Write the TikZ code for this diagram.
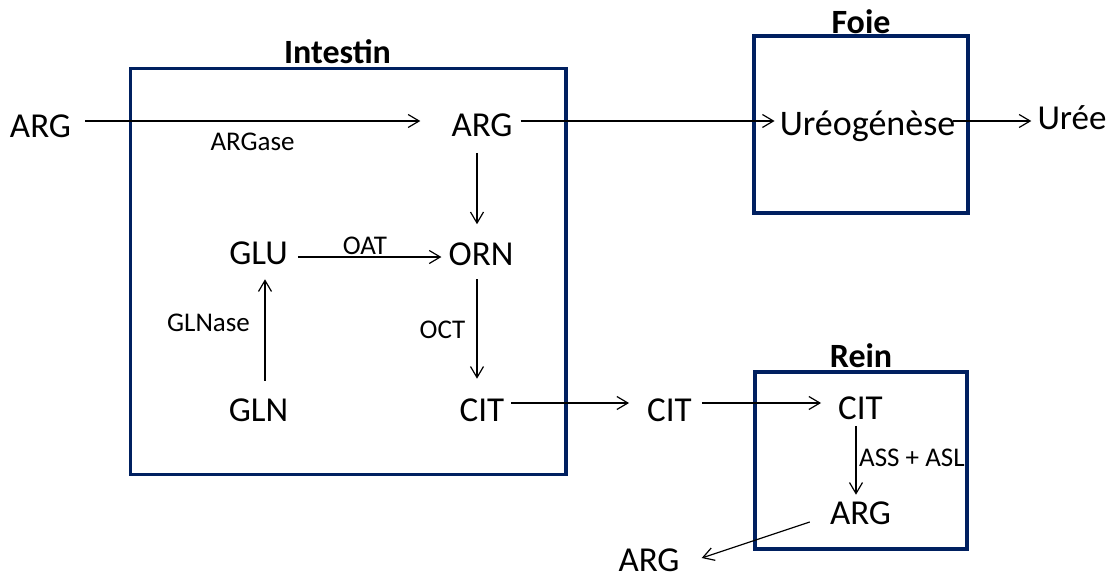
\documentclass[tikz,border=0pt]{standalone}
\usepackage{fontspec}
\setmainfont{Carlito}
\usetikzlibrary{arrows.meta}
\definecolor{boxblue}{HTML}{002060}
\tikzset{
  big/.style={font=\fontsize{35}{40}\selectfont, text height=22.2pt, text depth=0pt, inner sep=0pt, anchor=center},
  huge/.style={font=\fontsize{36}{40}\selectfont, text height=22.8pt, text depth=0pt, inner sep=0pt, anchor=center},
  small/.style={font=\fontsize{27}{30}\selectfont, text height=17.1pt, text depth=0pt, inner sep=0pt, anchor=center},
  title/.style={font=\fontsize{34}{38}\selectfont\bfseries, text height=21.5pt, text depth=0pt, inner sep=0pt, anchor=center},
  organ/.style={draw=boxblue, line width=3.5pt},
  arr/.style={draw=black, line width=1.2pt, -{Straight Barb[length=11pt,width=13pt,line width=1.2pt]}}
}
\begin{document}
\begin{tikzpicture}[x=1pt,y=-1pt]
\useasboundingbox (0,0) rectangle (1115,580);
% organ boxes
\draw[organ] (130.5,68.5) rectangle (566,474.5);
\draw[organ] (754,36) rectangle (968,213);
\draw[organ] (755,372) rectangle (967,549);
\node[title] (tint) at (337.5,52.5) {Intestin};
\node[title] (tfoie) at (861,22.5) {Foie};
\node[title] (trein) at (861,357) {Rein};
% nodes
\node[big] (argL) at (40.5,126) {ARG};
\node[small] (argase) at (252.5,141.5) {ARGase};
\node[big] (argT) at (482,125.5) {ARG};
\node[huge] (ureo) at (867.5,124.5) {Uréogénèse};
\node[big] (uree) at (1072,118) {Urée};
\node[big] (glu) at (258.5,253) {GLU};
\node[big] (orn) at (481,254.5) {ORN};
\node[small] (oat) at (365,246) {OAT};
\node[small] (glnase) at (208.5,322.5) {GLNase};
\node[small] (oct) at (442.5,329.5) {OCT};
\node[big] (gln) at (258.5,410) {GLN};
\node[big] (cit1) at (482,410) {CIT};
\node[big] (cit2) at (669.5,410) {CIT};
\node[big] (cit3) at (860.5,408.5) {CIT};
\node[small, anchor=west] (ass) at (859,458) {ASS + ASL};
\node[big] (argR) at (860.5,513) {ARG};
\node[big] (argB) at (649,560) {ARG};
% connectors
\draw[arr] ([shift={(14,-5)}]argL.east) -- ([shift={(-31,-4.5)}]argT.west);
\draw[arr] ([shift={(8,-4.5)}]argT.east) -- ([shift={(-5,-3.5)}]ureo.west);
\draw[arr] ([shift={(-2,-3.5)}]ureo.east) -- ([shift={(-6,3)}]uree.west);
\draw[arr] ([shift={(-5,16)}]argT.south) -- ([shift={(-4,-19)}]orn.north);
\draw[arr] ([shift={(10,4)}]glu.east) -- ([shift={(-7,2.5)}]orn.west);
\draw[arr] ([shift={(6.5,-18)}]gln.north) -- ([shift={(6.5,15)}]glu.south);
\draw[arr] ([shift={(-4,13.5)}]orn.south) -- ([shift={(-5,-20)}]cit1.north);
\draw[arr] ([shift={(7,-7)}]cit1.east) -- ([shift={(-18,-7)}]cit2.west);
\draw[arr] ([shift={(10,-7)}]cit2.east) -- ([shift={(-17,-5.5)}]cit3.west);
\draw[arr] ([shift={(-4.5,6)}]cit3.south) -- ([shift={(-4.5,-7)}]argR.north);
\draw[arr] ([shift={(-20,9)}]argR.west) -- ([shift={(22,-2)}]argB.east);
\end{tikzpicture}
\end{document}
